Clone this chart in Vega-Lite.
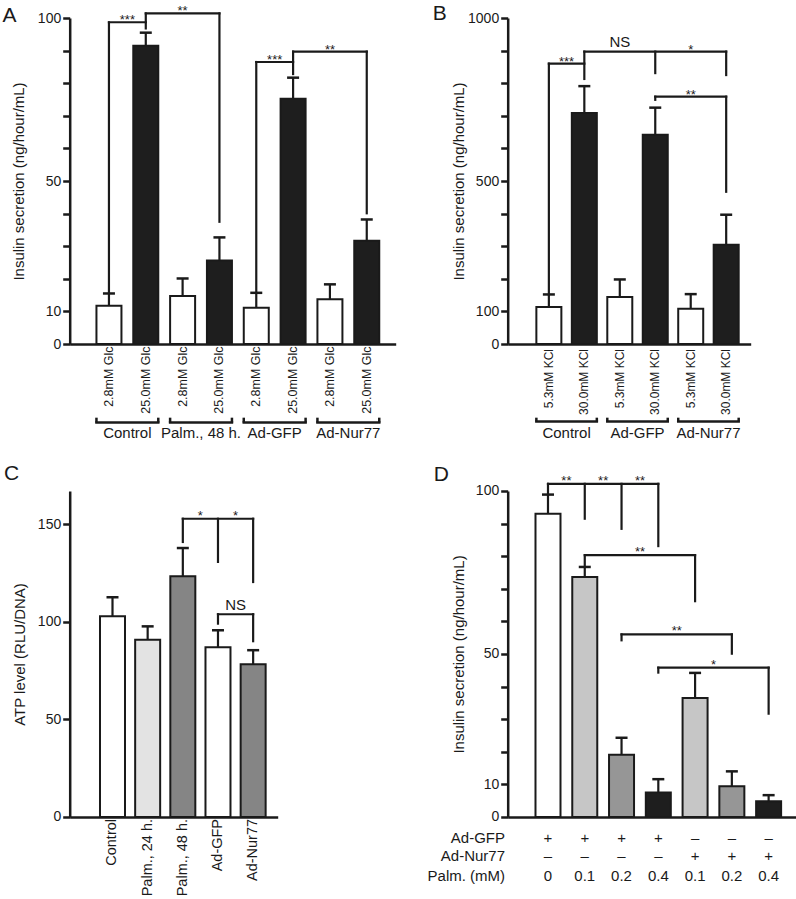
{
"$schema":"https://vega.github.io/schema/vega-lite/v6.json",
"padding":{"left":1.7,"top":3,"right":2,"bottom":2},
"spacing":22,
"resolve":{"scale":{"fill":"independent"}},
"datasets":{
"a_bars":[
{"pos":1,"group":"Control","glucose":"2.8mM Glc","mean":11.7,"upper":15.5},
{"pos":2,"group":"Control","glucose":"25.0mM Glc","mean":91.5,"upper":95.5},
{"pos":3,"group":"Palm., 48 h.","glucose":"2.8mM Glc","mean":14.7,"upper":20.1},
{"pos":4,"group":"Palm., 48 h.","glucose":"25.0mM Glc","mean":25.6,"upper":32.7},
{"pos":5,"group":"Ad-GFP","glucose":"2.8mM Glc","mean":11.1,"upper":15.7},
{"pos":6,"group":"Ad-GFP","glucose":"25.0mM Glc","mean":75.2,"upper":81.7},
{"pos":7,"group":"Ad-Nur77","glucose":"2.8mM Glc","mean":13.7,"upper":18.3},
{"pos":8,"group":"Ad-Nur77","glucose":"25.0mM Glc","mean":31.7,"upper":38.2}],
"a_groups":[
{"group":"Control","first":1,"last":2,"mid":1.5},
{"group":"Palm., 48 h.","first":3,"last":4,"mid":3.5},
{"group":"Ad-GFP","first":5,"last":6,"mid":5.5},
{"group":"Ad-Nur77","first":7,"last":8,"mid":7.5}],
"a_seg":[
{"x":1,"x2":1,"y":16.0,"y2":98.7},
{"x":1,"x2":2,"y":98.7,"y2":98.7},
{"x":2,"x2":2,"y":96.8,"y2":101.4},
{"x":2,"x2":4,"y":101.4,"y2":101.4},
{"x":4,"x2":4,"y":37.5,"y2":101.4},
{"x":5,"x2":5,"y":16.0,"y2":86.5},
{"x":5,"x2":6,"y":86.5,"y2":86.5},
{"x":6,"x2":6,"y":82.8,"y2":89.7},
{"x":6,"x2":8,"y":89.7,"y2":89.7},
{"x":8,"x2":8,"y":40.1,"y2":89.7}],
"a_txt":[
{"x":1.5,"y":98.1,"label":"***"},
{"x":3,"y":100.8,"label":"**"},
{"x":5.5,"y":85.9,"label":"***"},
{"x":7,"y":89.1,"label":"**"}],
"b_bars":[
{"pos":1,"group":"Control","kcl":"5.3mM KCl","mean":113.5,"upper":152},
{"pos":2,"group":"Control","kcl":"30.0mM KCl","mean":708.6,"upper":791},
{"pos":3,"group":"Ad-GFP","kcl":"5.3mM KCl","mean":144,"upper":198},
{"pos":4,"group":"Ad-GFP","kcl":"30.0mM KCl","mean":642,"upper":725},
{"pos":5,"group":"Ad-Nur77","kcl":"5.3mM KCl","mean":108,"upper":153},
{"pos":6,"group":"Ad-Nur77","kcl":"30.0mM KCl","mean":304.6,"upper":396.6}],
"b_groups":[
{"group":"Control","first":1,"last":2,"mid":1.5},
{"group":"Ad-GFP","first":3,"last":4,"mid":3.5},
{"group":"Ad-Nur77","first":5,"last":6,"mid":5.5}],
"b_seg":[
{"x":1,"x2":1,"y":152,"y2":860},
{"x":1,"x2":2,"y":860,"y2":860},
{"x":2,"x2":2,"y":813,"y2":897},
{"x":2,"x2":6,"y":897,"y2":897},
{"x":4,"x2":4,"y":831,"y2":897},
{"x":6,"x2":6,"y":825,"y2":897},
{"x":4,"x2":6,"y":758.6,"y2":758.6},
{"x":4,"x2":4,"y":749,"y2":758.6},
{"x":6,"x2":6,"y":467,"y2":758.6}],
"b_txt":[
{"x":1.5,"y":854,"label":"***"},
{"x":3,"y":910,"label":"NS"},
{"x":5,"y":891,"label":"*"},
{"x":5,"y":752,"label":"**"}],
"c_bars":[
{"pos":1,"treatment":"Control","mean":102.8,"upper":112.5},
{"pos":2,"treatment":"Palm., 24 h.","mean":90.8,"upper":97.6},
{"pos":3,"treatment":"Palm., 48 h.","mean":123.2,"upper":137.7},
{"pos":4,"treatment":"Ad-GFP","mean":86.9,"upper":95.6},
{"pos":5,"treatment":"Ad-Nur77","mean":78.2,"upper":85.4}],
"c_seg":[
{"x":3,"x2":5,"y":152.7,"y2":152.7},
{"x":3,"x2":3,"y":140.8,"y2":152.7},
{"x":4,"x2":4,"y":130.6,"y2":152.7},
{"x":5,"x2":5,"y":120.3,"y2":152.7},
{"x":4,"x2":5,"y":103.8,"y2":103.8},
{"x":4,"x2":4,"y":99,"y2":103.8},
{"x":5,"x2":5,"y":90,"y2":103.8}],
"c_txt":[
{"x":3.5,"y":152.2,"label":"*"},
{"x":4.5,"y":152.2,"label":"*"},
{"x":4.5,"y":105.8,"label":"NS"}],
"d_bars":[
{"pos":1,"palm":"0","gfp":"+","nur":"–","mean":93.0,"upper":98.9},
{"pos":2,"palm":"0.1","gfp":"+","nur":"–","mean":73.6,"upper":76.7},
{"pos":3,"palm":"0.2","gfp":"+","nur":"–","mean":19.1,"upper":24.3},
{"pos":4,"palm":"0.4","gfp":"+","nur":"–","mean":7.5,"upper":11.6},
{"pos":5,"palm":"0.1","gfp":"–","nur":"+","mean":36.5,"upper":44.2},
{"pos":6,"palm":"0.2","gfp":"–","nur":"+","mean":9.4,"upper":14.0},
{"pos":7,"palm":"0.4","gfp":"–","nur":"+","mean":4.8,"upper":6.7}],
"d_seg":[
{"x":1,"x2":4,"y":102.2,"y2":102.2},
{"x":1,"x2":1,"y":98.9,"y2":102.2},
{"x":2,"x2":2,"y":91.5,"y2":102.2},
{"x":3,"x2":3,"y":88.4,"y2":102.2},
{"x":4,"x2":4,"y":83.1,"y2":102.2},
{"x":2,"x2":5,"y":80.3,"y2":80.3},
{"x":2,"x2":2,"y":76.7,"y2":80.3},
{"x":5,"x2":5,"y":66.2,"y2":80.3},
{"x":3,"x2":6,"y":56.0,"y2":56.0},
{"x":3,"x2":3,"y":54.2,"y2":56.0},
{"x":6,"x2":6,"y":50.1,"y2":56.0},
{"x":4,"x2":7,"y":45.8,"y2":45.8},
{"x":4,"x2":4,"y":44.3,"y2":45.8},
{"x":7,"x2":7,"y":31.7,"y2":45.8}],
"d_txt":[
{"x":1.5,"y":101.9,"label":"**"},
{"x":2.5,"y":101.9,"label":"**"},
{"x":3.5,"y":101.9,"label":"**"},
{"x":3.5,"y":80.0,"label":"**"},
{"x":4.5,"y":55.7,"label":"**"},
{"x":5.5,"y":45.5,"label":"*"}]
},
"vconcat":[
{"spacing":112,"bounds":"flush","align":"none","resolve":{"scale":{"fill":"independent"}},"hconcat":[
{"width":326,"height":326,
"title":{"text":"A","anchor":"start","frame":"group","fontSize":21,"fontWeight":"normal","dx":-67.3,"offset":-21},
"layer":[
{"data":{"name":"a_bars"},"mark":{"type":"bar","width":25,"stroke":"#1a1a1a","strokeWidth":2},
"encoding":{
"x":{"field":"pos","type":"quantitative","scale":{"domain":[0.07,8.65],"nice":false,"zero":false},"axis":{"labels":false,"ticks":false,"title":null}},
"y":{"field":"mean","type":"quantitative","scale":{"domain":[0,100],"nice":false},"axis":{"title":"Insulin secretion (ng/hour/mL)","values":[0,10,20,30,40,50,60,70,80,90,100],"tickCount":30,"labelExpr":"(datum.value == 0 || datum.value == 10 || datum.value == 50 || datum.value == 100) ? datum.label : ''","labelOverlap":false,"titlePadding":11}},
"fill":{"field":"glucose","type":"nominal","scale":{"domain":["2.8mM Glc","25.0mM Glc"],"range":["#ffffff","#1e1e1e"]},"legend":null}}},
{"data":{"name":"a_bars"},"mark":{"type":"rule","strokeWidth":2.2},"encoding":{"x":{"field":"pos","type":"quantitative"},"y":{"field":"mean","type":"quantitative"},"y2":{"field":"upper"}}},
{"data":{"name":"a_bars"},"mark":{"type":"rule","strokeWidth":2.5,"xOffset":-6,"x2Offset":6},"encoding":{"x":{"field":"pos","type":"quantitative"},"x2":{"field":"pos"},"y":{"field":"upper","type":"quantitative"}}},
{"data":{"name":"a_seg"},"mark":{"type":"rule","strokeWidth":2.2,"strokeCap":"square"},"encoding":{"x":{"field":"x","type":"quantitative"},"x2":{"field":"x2"},"y":{"field":"y","type":"quantitative"},"y2":{"field":"y2"}}},
{"data":{"name":"a_txt"},"mark":{"type":"text","fontSize":13,"baseline":"alphabetic"},"encoding":{"x":{"field":"x","type":"quantitative"},"y":{"field":"y","type":"quantitative"},"text":{"field":"label"}}},
{"data":{"name":"a_bars"},"mark":{"type":"text","angle":270,"align":"right","baseline":"middle","fontSize":12.5,"yOffset":2.5},"encoding":{"x":{"field":"pos","type":"quantitative"},"y":{"datum":0},"text":{"field":"glucose"}}},
{"data":{"name":"a_groups"},"mark":{"type":"rule","strokeWidth":2.5,"strokeCap":"square","xOffset":-12.5,"x2Offset":12.5},"encoding":{"x":{"field":"first","type":"quantitative"},"x2":{"field":"last"},"y":{"datum":-24.1}}},
{"data":{"name":"a_groups"},"mark":{"type":"rule","strokeWidth":2.5,"xOffset":-12.5},"encoding":{"x":{"field":"first","type":"quantitative"},"y":{"datum":-24.1},"y2":{"datum":-22.6}}},
{"data":{"name":"a_groups"},"mark":{"type":"rule","strokeWidth":2.5,"xOffset":12.5},"encoding":{"x":{"field":"last","type":"quantitative"},"y":{"datum":-24.1},"y2":{"datum":-22.6}}},
{"data":{"name":"a_groups"},"mark":{"type":"text","fontSize":15,"baseline":"top","yOffset":3},"encoding":{"x":{"field":"mid","type":"quantitative"},"y":{"datum":-24.1},"text":{"field":"group"}}}
]},
{"width":243,"height":326,
"title":{"text":"B","anchor":"start","frame":"group","fontSize":21,"fontWeight":"normal","dx":-75,"offset":-13},
"layer":[
{"data":{"name":"b_bars"},"mark":{"type":"bar","width":25,"stroke":"#1a1a1a","strokeWidth":2},
"encoding":{
"x":{"field":"pos","type":"quantitative","scale":{"domain":[-0.02,6.55],"nice":false,"zero":false},"axis":{"labels":false,"ticks":false,"title":null}},
"y":{"field":"mean","type":"quantitative","scale":{"domain":[0,1000],"nice":false},"axis":{"title":"Insulin secretion (ng/hour/mL)","values":[0,100,200,300,400,500,600,700,800,900,1000],"tickCount":30,"format":"d","labelExpr":"(datum.value == 0 || datum.value == 100 || datum.value == 500 || datum.value == 1000) ? datum.label : ''","labelOverlap":false,"titlePadding":1}},
"fill":{"field":"kcl","type":"nominal","scale":{"domain":["5.3mM KCl","30.0mM KCl"],"range":["#ffffff","#1e1e1e"]},"legend":null}}},
{"data":{"name":"b_bars"},"mark":{"type":"rule","strokeWidth":2.2},"encoding":{"x":{"field":"pos","type":"quantitative"},"y":{"field":"mean","type":"quantitative"},"y2":{"field":"upper"}}},
{"data":{"name":"b_bars"},"mark":{"type":"rule","strokeWidth":2.5,"xOffset":-6,"x2Offset":6},"encoding":{"x":{"field":"pos","type":"quantitative"},"x2":{"field":"pos"},"y":{"field":"upper","type":"quantitative"}}},
{"data":{"name":"b_seg"},"mark":{"type":"rule","strokeWidth":2.2,"strokeCap":"square"},"encoding":{"x":{"field":"x","type":"quantitative"},"x2":{"field":"x2"},"y":{"field":"y","type":"quantitative"},"y2":{"field":"y2"}}},
{"data":{"name":"b_txt"},"transform":[{"filter":"datum.label != 'NS'"}],"mark":{"type":"text","fontSize":13,"baseline":"alphabetic"},"encoding":{"x":{"field":"x","type":"quantitative"},"y":{"field":"y","type":"quantitative"},"text":{"field":"label"}}},
{"data":{"name":"b_txt"},"transform":[{"filter":"datum.label == 'NS'"}],"mark":{"type":"text","fontSize":15,"baseline":"alphabetic"},"encoding":{"x":{"field":"x","type":"quantitative"},"y":{"field":"y","type":"quantitative"},"text":{"field":"label"}}},
{"data":{"name":"b_bars"},"mark":{"type":"text","angle":270,"align":"right","baseline":"middle","fontSize":12,"yOffset":5},"encoding":{"x":{"field":"pos","type":"quantitative"},"y":{"datum":0},"text":{"field":"kcl"}}},
{"data":{"name":"b_groups"},"mark":{"type":"rule","strokeWidth":2.5,"strokeCap":"square","xOffset":-12.5,"x2Offset":12.5},"encoding":{"x":{"field":"first","type":"quantitative"},"x2":{"field":"last"},"y":{"datum":-238}}},
{"data":{"name":"b_groups"},"mark":{"type":"rule","strokeWidth":2.5,"xOffset":-12.5},"encoding":{"x":{"field":"first","type":"quantitative"},"y":{"datum":-238},"y2":{"datum":-226}}},
{"data":{"name":"b_groups"},"mark":{"type":"rule","strokeWidth":2.5,"xOffset":12.5},"encoding":{"x":{"field":"last","type":"quantitative"},"y":{"datum":-238},"y2":{"datum":-226}}},
{"data":{"name":"b_groups"},"mark":{"type":"text","fontSize":15,"baseline":"top","yOffset":4},"encoding":{"x":{"field":"mid","type":"quantitative"},"y":{"datum":-238},"text":{"field":"group"}}}
]}
]},
{"spacing":230,"bounds":"flush","align":"none","resolve":{"scale":{"fill":"independent"}},"hconcat":[
{"width":208,"height":326,
"title":{"text":"C","anchor":"start","frame":"group","fontSize":21,"fontWeight":"normal","dx":-65.7,"offset":7},
"layer":[
{"data":{"name":"c_bars"},"mark":{"type":"bar","width":25,"stroke":"#1a1a1a","strokeWidth":2},
"encoding":{
"x":{"field":"pos","type":"quantitative","scale":{"domain":[-0.075,5.556],"nice":false,"zero":false},"axis":{"labels":false,"ticks":false,"title":null}},
"y":{"field":"mean","type":"quantitative","scale":{"domain":[0,166.9],"nice":false},"axis":{"title":"ATP level (RLU/DNA)","values":[0,50,100,150],"tickCount":30,"labelOverlap":false,"titlePadding":10}},
"fill":{"field":"treatment","type":"nominal","scale":{"domain":["Control","Palm., 24 h.","Palm., 48 h.","Ad-GFP","Ad-Nur77"],"range":["#ffffff","#e3e3e3","#858585","#ffffff","#858585"]},"legend":null}}},
{"data":{"name":"c_bars"},"mark":{"type":"rule","strokeWidth":2.2},"encoding":{"x":{"field":"pos","type":"quantitative"},"y":{"field":"mean","type":"quantitative"},"y2":{"field":"upper"}}},
{"data":{"name":"c_bars"},"mark":{"type":"rule","strokeWidth":2.5,"xOffset":-6,"x2Offset":6},"encoding":{"x":{"field":"pos","type":"quantitative"},"x2":{"field":"pos"},"y":{"field":"upper","type":"quantitative"}}},
{"data":{"name":"c_seg"},"mark":{"type":"rule","strokeWidth":2.2,"strokeCap":"square"},"encoding":{"x":{"field":"x","type":"quantitative"},"x2":{"field":"x2"},"y":{"field":"y","type":"quantitative"},"y2":{"field":"y2"}}},
{"data":{"name":"c_txt"},"transform":[{"filter":"datum.label != 'NS'"}],"mark":{"type":"text","fontSize":13,"baseline":"alphabetic"},"encoding":{"x":{"field":"x","type":"quantitative"},"y":{"field":"y","type":"quantitative"},"text":{"field":"label"}}},
{"data":{"name":"c_txt"},"transform":[{"filter":"datum.label == 'NS'"}],"mark":{"type":"text","fontSize":15,"baseline":"alphabetic"},"encoding":{"x":{"field":"x","type":"quantitative"},"y":{"field":"y","type":"quantitative"},"text":{"field":"label"}}},
{"data":{"name":"c_bars"},"mark":{"type":"text","angle":270,"align":"right","baseline":"middle","fontSize":14.5,"yOffset":2},"encoding":{"x":{"field":"pos","type":"quantitative"},"y":{"datum":0},"text":{"field":"treatment"}}}
]},
{"width":288,"height":326,
"title":{"text":"D","anchor":"start","frame":"group","fontSize":21,"fontWeight":"normal","dx":-74,"offset":-10},
"layer":[
{"data":{"name":"d_bars"},"mark":{"type":"bar","width":25,"stroke":"#1a1a1a","strokeWidth":2},
"encoding":{
"x":{"field":"pos","type":"quantitative","scale":{"domain":[0.04,7.6],"nice":false,"zero":false},"axis":{"labels":false,"ticks":false,"title":null}},
"y":{"field":"mean","type":"quantitative","scale":{"domain":[0,100],"nice":false},"axis":{"title":"Insulin secretion (ng/hour/mL)","values":[0,10,20,30,40,50,60,70,80,90,100],"tickCount":30,"labelExpr":"(datum.value == 0 || datum.value == 10 || datum.value == 50 || datum.value == 100) ? datum.label : ''","labelOverlap":false,"titlePadding":9}},
"fill":{"field":"palm","type":"nominal","scale":{"domain":["0","0.1","0.2","0.4"],"range":["#ffffff","#c6c6c6","#969696","#1e1e1e"]},"legend":null}}},
{"data":{"name":"d_bars"},"mark":{"type":"rule","strokeWidth":2.2},"encoding":{"x":{"field":"pos","type":"quantitative"},"y":{"field":"mean","type":"quantitative"},"y2":{"field":"upper"}}},
{"data":{"name":"d_bars"},"mark":{"type":"rule","strokeWidth":2.5,"xOffset":-6,"x2Offset":6},"encoding":{"x":{"field":"pos","type":"quantitative"},"x2":{"field":"pos"},"y":{"field":"upper","type":"quantitative"}}},
{"data":{"name":"d_seg"},"mark":{"type":"rule","strokeWidth":2.2,"strokeCap":"square"},"encoding":{"x":{"field":"x","type":"quantitative"},"x2":{"field":"x2"},"y":{"field":"y","type":"quantitative"},"y2":{"field":"y2"}}},
{"data":{"name":"d_txt"},"mark":{"type":"text","fontSize":13,"baseline":"alphabetic"},"encoding":{"x":{"field":"x","type":"quantitative"},"y":{"field":"y","type":"quantitative"},"text":{"field":"label"}}},
{"data":{"name":"d_bars"},"mark":{"type":"text","fontSize":15,"baseline":"middle"},"encoding":{"x":{"field":"pos","type":"quantitative"},"y":{"datum":-6.4},"text":{"field":"gfp"}}},
{"data":{"name":"d_bars"},"mark":{"type":"text","fontSize":15,"baseline":"middle"},"encoding":{"x":{"field":"pos","type":"quantitative"},"y":{"datum":-11.9},"text":{"field":"nur"}}},
{"data":{"name":"d_bars"},"mark":{"type":"text","fontSize":15,"baseline":"middle"},"encoding":{"x":{"field":"pos","type":"quantitative"},"y":{"datum":-18.0},"text":{"field":"palm"}}},
{"data":{"values":[{"row":"Ad-GFP"}]},"mark":{"type":"text","fontSize":15,"align":"right","baseline":"middle"},"encoding":{"x":{"datum":-0.17},"y":{"datum":-6.4},"text":{"field":"row"}}},
{"data":{"values":[{"row":"Ad-Nur77"}]},"mark":{"type":"text","fontSize":15,"align":"right","baseline":"middle"},"encoding":{"x":{"datum":-0.17},"y":{"datum":-11.9},"text":{"field":"row"}}},
{"data":{"values":[{"row":"Palm. (mM)"}]},"mark":{"type":"text","fontSize":15,"align":"right","baseline":"middle"},"encoding":{"x":{"datum":-0.17},"y":{"datum":-18.0},"text":{"field":"row"}}}
]}
]}
],
"config":{
"view":{"stroke":null},
"font":"Liberation Sans",
"axis":{"domainColor":"#1a1a1a","domainWidth":2.5,"tickColor":"#1a1a1a","tickWidth":2.5,"tickSize":7,"labelFontSize":14,"labelColor":"#1a1a1a","titleFontSize":15,"titleFontWeight":"normal","titleColor":"#1a1a1a","grid":false,"labelPadding":2,"labelOverlap":false},
"text":{"color":"#1a1a1a"},
"rule":{"color":"#1a1a1a"},
"title":{"color":"#1a1a1a"}
}
}
